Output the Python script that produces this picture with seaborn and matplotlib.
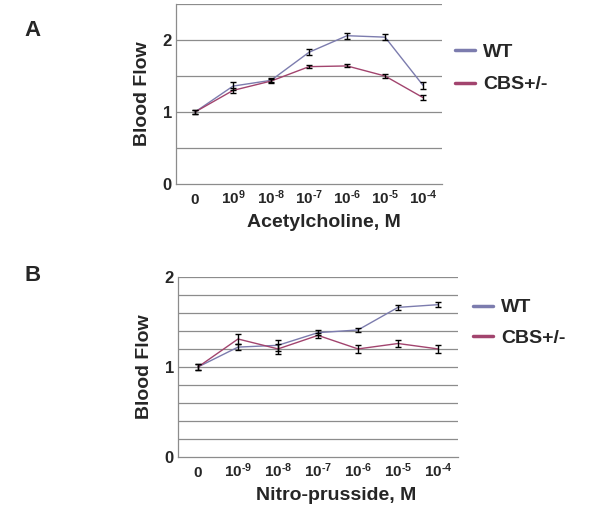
import numpy as np
import pandas as pd
import matplotlib
matplotlib.use("Agg")
import matplotlib.pyplot as plt
import seaborn as sns
from matplotlib.ticker import FixedLocator

# -------------------------
# Data
# -------------------------
H = "\u2010"  # short hyphen in the exponents, as in the original figure
ach_labels = ["0", "10$^{9}$", f"10$^{{{H}8}}$", f"10$^{{{H}7}}$", f"10$^{{{H}6}}$",
              f"10$^{{{H}5}}$", f"10$^{{{H}4}}$"]
ach_wt = [1.00, 1.36, 1.44, 1.83, 2.06, 2.04, 1.37]
ach_wt_err = [0.03, 0.05, 0.03, 0.04, 0.04, 0.04, 0.05]
ach_cbs = [1.00, 1.30, 1.43, 1.63, 1.64, 1.50, 1.20]
ach_cbs_err = [0.03, 0.04, 0.03, 0.02, 0.02, 0.03, 0.03]

snp_labels = ["0", f"10$^{{{H}9}}$", f"10$^{{{H}8}}$", f"10$^{{{H}7}}$", f"10$^{{{H}6}}$",
              f"10$^{{{H}5}}$", f"10$^{{{H}4}}$"]
snp_wt = [1.00, 1.22, 1.24, 1.38, 1.41, 1.66, 1.69]
snp_wt_err = [0.03, 0.03, 0.06, 0.03, 0.02, 0.03, 0.03]
snp_cbs = [1.00, 1.31, 1.20, 1.35, 1.20, 1.26, 1.20]
snp_cbs_err = [0.03, 0.06, 0.06, 0.03, 0.04, 0.04, 0.04]

groups = ["WT", "CBS+/-"]
colors = {"WT": "#7c7cae", "CBS+/-": "#a2446e"}

sns.set_style("white")
plt.rcParams["font.family"] = ["Liberation Sans", "DejaVu Sans"]
plt.rcParams["mathtext.fontset"] = "custom"
plt.rcParams["mathtext.rm"] = "Liberation Sans:bold"
plt.rcParams["mathtext.default"] = "rm"

fig = plt.figure(figsize=(6.02, 5.16), dpi=100)


def draw_panel(ax, labels, wt, wt_err, cbs, cbs_err, ymax, grid_step, xlabel, label_x,
               leg_pos, leg_space):
    x = np.arange(len(labels))
    df = pd.DataFrame({
        "x": np.concatenate([x, x]),
        "flow": wt + cbs,
        "group": [groups[0]] * len(x) + [groups[1]] * len(x),
    })
    for y in np.arange(grid_step, ymax + 1e-9, grid_step):
        ax.axhline(y, color="#8c8c8c", lw=0.9, zorder=0)
    sns.lineplot(data=df, x="x", y="flow", hue="group", palette=colors,
                 hue_order=groups, lw=1.0, ax=ax, legend=False, zorder=2)
    for vals, errs in [(wt, wt_err), (cbs, cbs_err)]:
        ax.errorbar(x, vals, yerr=errs, fmt="none", ecolor="black",
                    elinewidth=1.0, capsize=2.5, capthick=1.0, zorder=3)
    ax.set_xlim(-0.5, len(labels) - 0.5)
    ax.set_ylim(0, ymax)
    ax.set_yticks([0, 1, 2])
    ax.set_yticklabels(["0", "1", "2"], fontsize=12, fontweight="bold")
    ax.tick_params(axis="y", length=0, pad=3)
    ax.set_xticks(x)
    ax.set_xticklabels(labels, fontsize=11, fontweight="bold", va="baseline")
    ax.tick_params(axis="x", which="major", length=0, pad=14.5)
    ax.xaxis.set_minor_locator(FixedLocator(np.arange(-0.5, len(labels), 1.0)))
    ax.tick_params(axis="x", which="minor", length=4, color="#8c8c8c", direction="out")
    for s in ["top", "right"]:
        ax.spines[s].set_visible(False)
    for s in ["left", "bottom"]:
        ax.spines[s].set_color("#8c8c8c")
        ax.spines[s].set_linewidth(0.9)
    ax.set_xlabel(xlabel, fontsize=14, fontweight="bold", labelpad=5)
    ax.xaxis.label.set_x(label_x)
    ax.set_ylabel("Blood Flow", fontsize=14, fontweight="bold", labelpad=8)
    handles = [plt.Line2D([], [], color=colors[g], lw=2.5) for g in groups]
    ax.legend(handles, groups, loc="upper left", bbox_to_anchor=leg_pos, frameon=False,
              prop={"weight": "bold", "size": 14}, handlelength=1.0, handletextpad=0.45,
              labelspacing=leg_space, borderaxespad=0, borderpad=0)


ax_a = fig.add_axes([0.2924, 0.6434, 0.4419, 0.3488])
draw_panel(ax_a, ach_labels, ach_wt, ach_wt_err, ach_cbs, ach_cbs_err, 2.5, 0.5,
           "Acetylcholine, M", 0.556, (1.049, 0.783), 0.78)

ax_b = fig.add_axes([0.2957, 0.1138, 0.4651, 0.35])
draw_panel(ax_b, snp_labels, snp_wt, snp_wt_err, snp_cbs, snp_cbs_err, 2.0, 0.2,
           "Nitro-prusside, M", 0.564, (1.054, 0.878), 0.68)

fig.text(0.04, 0.93, "A", fontsize=16, fontweight="bold")
fig.text(0.04, 0.455, "B", fontsize=16, fontweight="bold")

fig.savefig("out.png", dpi=100)
